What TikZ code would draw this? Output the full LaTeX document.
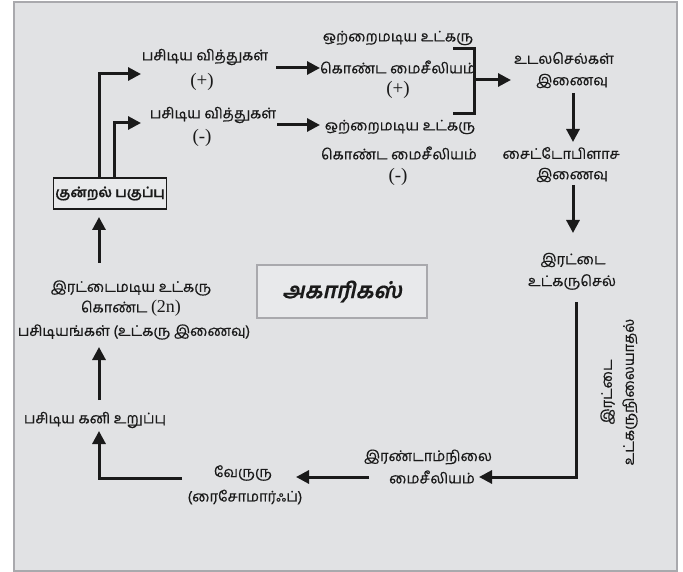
\documentclass[tikz,border=0pt]{standalone}
\usepackage{fontspec}
\usetikzlibrary{arrows.meta}
\newfontfamily\tam[Script=Tamil,FakeBold=0.4]{Hind Madurai}
\newfontfamily\ser{Liberation Serif}
\definecolor{framefill}{HTML}{E1E2E4}
\definecolor{framegray}{HTML}{A9A9AD}
\definecolor{ink}{HTML}{1A1A1A}
\definecolor{boxfill}{HTML}{E8E9EB}
\tikzset{
  x=1pt,y=-1pt,
  lbl/.style={inner sep=1pt,font=\tam\fontsize{14.6}{22}\selectfont,text=ink},
  sym/.style={inner sep=0pt,font=\ser\fontsize{19}{20}\selectfont,text=ink},
  arr/.style={draw=ink,line width=3pt,-{Triangle[length=13pt,width=13pt]}},
  plain/.style={draw=ink,line width=3pt},
}
\begin{document}
\begin{tikzpicture}
\useasboundingbox (0,0) rectangle (683,572);
\draw[fill=framefill,draw=framegray,line width=1.5pt] (14,2) rectangle (677,571);

% top-left
\node[lbl] (sp1) at (205,57) {பசிடிய வித்துகள்};
\node[sym] (sp1s) at (202,82) {(+)};
\node[lbl] (sp2) at (213,115) {பசிடிய வித்துகள்};
\node[sym] (sp2s) at (202,138) {(-)};
\node[draw=ink,line width=1.1pt,fill=boxfill,minimum width=106pt,minimum height=31pt,inner sep=2pt,
      font=\tam\bfseries\fontsize{13.6}{15}\selectfont,text=ink] (mei) at (110,193.5) {குன்றல் பகுப்பு};

% monokaryotic mycelia
\node[lbl] (m1a) at (398,38) {ஒற்றைமடிய உட்கரு};
\node[lbl] (m1b) at (398,67) {கொண்ட மைசீலியம்};
\node[sym] (m1c) at (398,90) {(+)};
\node[lbl] (m2a) at (400,127) {ஒற்றைமடிய உட்கரு};
\node[lbl] (m2b) at (399,153) {கொண்ட மைசீலியம்};
\node[sym] (m2c) at (398,177) {(-)};

% right column
\node[lbl] (som) at (564,58) {உடலசெல்கள்};
\node[lbl] (som2) at (572,81) {இணைவு};
\node[lbl] (cyt) at (561,153) {சைட்டோபிளாச};
\node[lbl] (cyt2) at (572,175) {இணைவு};
\node[lbl] (dik) at (573,260) {இரட்டை};
\node[lbl] (dik2) at (572,282) {உட்கருசெல்};
\node[lbl,rotate=90,align=center] (dikz) at (619,392) {இரட்டை\\உட்கருநிலையாதல்};

% bottom
\node[lbl] (sec) at (428,457) {இரண்டாம்நிலை};
\node[lbl] (sec2) at (432,477) {மைசீலியம்};
\node[lbl] (rhz) at (243,473) {வேருரு};
\node[lbl] (rhz2) at (245,497) {(ரைசோமார்ஃப்)};
\node[lbl] (fb) at (95,420) {பசிடிய கனி உறுப்பு};

% left column
\node[lbl] (zyg) at (131,288) {இரட்டைமடிய உட்கரு};
\node[lbl] (zyg2) at (131,308) {கொண்ட {\ser\fontsize{18}{19}\selectfont (2n)}};
\node[lbl] (zyg3) at (134,332) {பசிடியங்கள் (உட்கரு இணைவு)};

% title
\node[draw=framegray,line width=2pt,fill=boxfill,minimum width=170pt,minimum height=53pt,
      font=\tam\bfseries\addfontfeatures{FakeSlant=0.22}\fontsize{22}{24}\selectfont,text=ink] (title) at (342,291.5) {அகாரிகஸ்};

% connector coordinates
\coordinate (t1) at (141,74);
\coordinate (t2) at (141,123);
\coordinate (b1) at (453,49);
\coordinate (b2) at (474,49);
\coordinate (b3) at (474,114);
\coordinate (b4) at (453,114);
\coordinate (bm) at (474,80);
\coordinate (bt) at (511,80);
\coordinate (a3s) at (276,68);
\coordinate (a3e) at (320,68);
\coordinate (a4s) at (277,125);
\coordinate (a4e) at (320,125);
\coordinate (v1s) at (573,93);
\coordinate (v1e) at (573,142);
\coordinate (v2s) at (573,185);
\coordinate (v2e) at (573,233);
\coordinate (v3s) at (576,302);
\coordinate (h3e) at (479,477);
\coordinate (h4s) at (369,477);
\coordinate (h4e) at (296,477);
\coordinate (h5s) at (182,478);
\coordinate (u1e) at (99,431);
\coordinate (u2s) at (99,400);
\coordinate (u2e) at (99,347);
\coordinate (u3s) at (99,263);
\coordinate (u3e) at (99,217);

\draw[arr] ([xshift=-11pt]mei.north) |- (t1);
\draw[arr] ([xshift=4pt]mei.north) |- (t2);
\draw[arr] (a3s) -- (a3e);
\draw[arr] (a4s) -- (a4e);
\draw[plain] (b1) -- (b2) -- (b3) -- (b4);
\draw[arr] (bm) -- (bt);
\draw[arr] (v1s) -- (v1e);
\draw[arr] (v2s) -- (v2e);
\draw[arr] (v3s) |- (h3e);
\draw[arr] (h4s) -- (h4e);
\draw[arr] (h5s) -| (u1e);
\draw[arr] (u2s) -- (u2e);
\draw[arr] (u3s) -- (u3e);
\end{tikzpicture}
\end{document}
